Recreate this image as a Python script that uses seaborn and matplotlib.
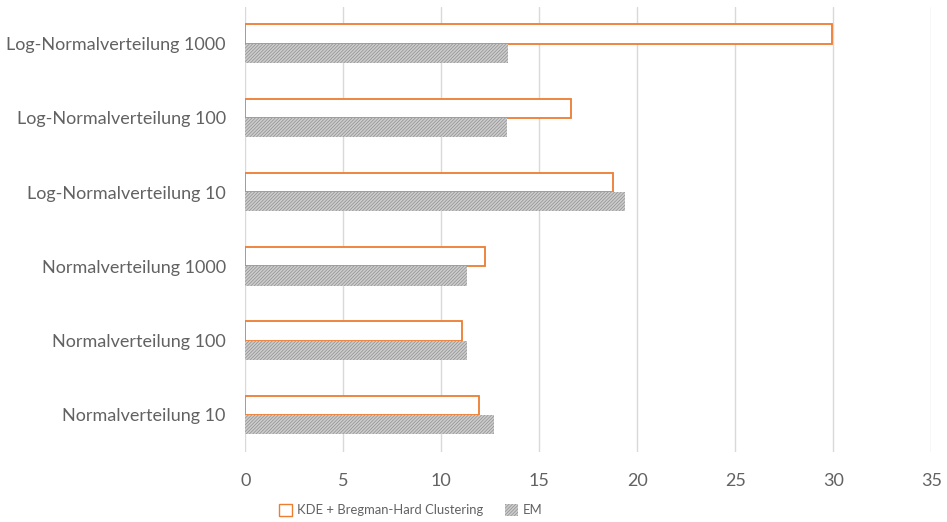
import matplotlib
matplotlib.use("Agg")
import matplotlib.pyplot as plt
import seaborn as sns
import pandas as pd
from matplotlib.patches import Patch

categories = [
    "Log-Normalverteilung 1000",
    "Log-Normalverteilung 100",
    "Log-Normalverteilung 10",
    "Normalverteilung 1000",
    "Normalverteilung 100",
    "Normalverteilung 10",
]
series_names = ["KDE + Bregman-Hard Clustering", "EM"]
kde_values = [29.95, 16.63, 18.78, 12.21, 11.07, 11.92]
em_values = [13.42, 13.34, 19.37, 11.29, 11.31, 12.69]
x_ticks = [0, 5, 10, 15, 20, 25, 30, 35]

df = pd.DataFrame({
    "Kategorie": categories * 2,
    "Wert": kde_values + em_values,
    "Verfahren": [series_names[0]] * len(categories) + [series_names[1]] * len(categories),
})

sns.set_theme(style="white")
plt.rcParams["font.family"] = ["Lato", "DejaVu Sans"]
plt.rcParams["hatch.linewidth"] = 0.5

text_gray = "#626262"
orange = "#ED7D31"
grid_gray = "#d9d9d9"
em_face = "#cccccc"
em_hatch = "#8f8f8f"

fig = plt.figure(figsize=(9.47, 5.22), dpi=100)
ax = fig.add_axes([0.259, 0.134, 0.7244, 0.8535])

sns.barplot(data=df, y="Kategorie", x="Wert", hue="Verfahren", order=categories,
            hue_order=series_names, orient="h", width=0.52, ax=ax, legend=False)

for bar in ax.containers[0]:
    bar.set_facecolor("white")
    bar.set_edgecolor(orange)
    bar.set_linewidth(1.3)
for bar in ax.containers[1]:
    bar.set_facecolor(em_face)
    bar.set_edgecolor(em_hatch)
    bar.set_hatch("//////////")
    bar.set_linewidth(0)

ax.set_xlim(0, 35)
ax.set_xticks(x_ticks)
ax.set_xticklabels([str(t) for t in x_ticks])
ax.set_ylim(len(categories) - 0.5, -0.5)
ax.set_xlabel("")
ax.set_ylabel("")
ax.grid(axis="x", color=grid_gray, linewidth=1.0)
ax.set_axisbelow(True)
for s in ax.spines.values():
    s.set_visible(False)
ax.tick_params(axis="both", length=0, colors=text_gray, labelsize=13)
ax.tick_params(axis="x", pad=15)
ax.tick_params(axis="y", pad=14)

handles = [
    Patch(facecolor="white", edgecolor=orange, linewidth=1.0, label=series_names[0]),
    Patch(facecolor=em_face, edgecolor=em_hatch, hatch="//////////", linewidth=0, label=series_names[1]),
]
leg = fig.legend(handles=handles, loc="center", bbox_to_anchor=(411 / 947, 1 - 510 / 522),
                 ncol=2, frameon=False, fontsize=9.4, handlelength=1.0, handleheight=1.0,
                 handletextpad=0.35, columnspacing=1.7)
for t in leg.get_texts():
    t.set_color(text_gray)

fig.savefig("out.png", dpi=100)
